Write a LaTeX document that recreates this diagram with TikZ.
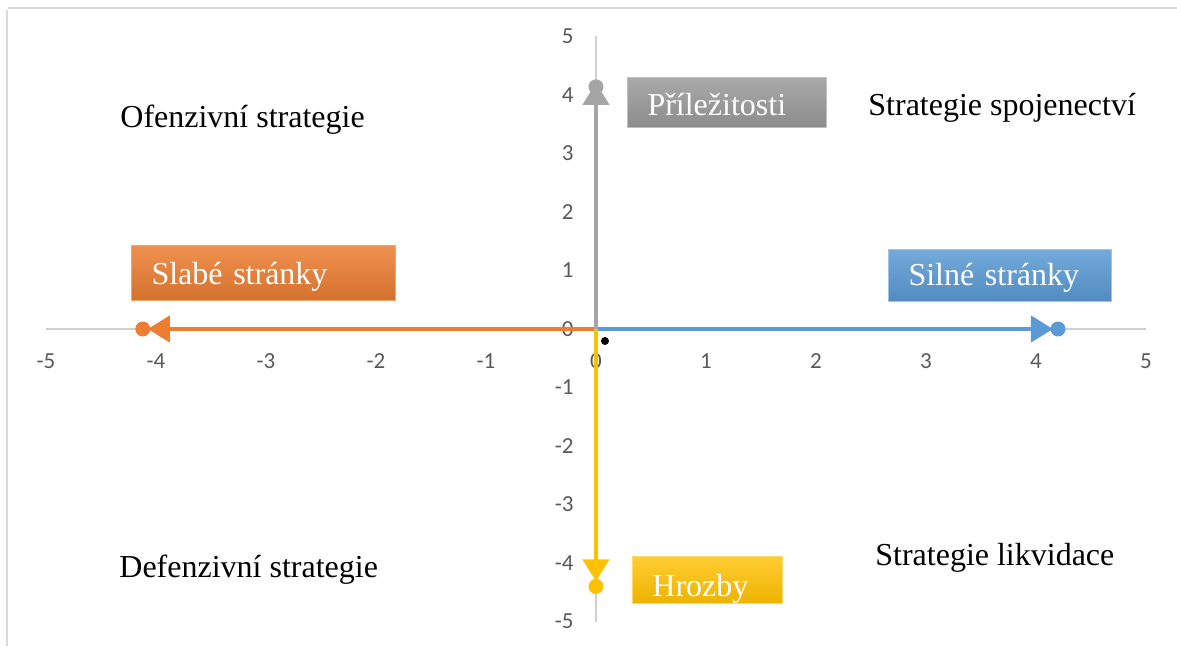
\documentclass[tikz,border=0pt]{standalone}
\usepackage{fontspec}
\setmainfont{Liberation Serif}
\newfontfamily\ticksfont{Carlito}
\usetikzlibrary{arrows.meta}
\definecolor{framegray}{HTML}{D9D9D9}
\definecolor{axisgray}{HTML}{D0D0D0}
\definecolor{tickgray}{HTML}{595959}
\definecolor{strongblue}{HTML}{5B9BD5}
\definecolor{weakorange}{HTML}{ED7D31}
\definecolor{oppgray}{HTML}{A5A5A5}
\definecolor{threatyellow}{HTML}{FFC000}

\begin{document}
\begin{tikzpicture}[x=55pt,y=29.25pt,
  tick/.style={font=\ticksfont\fontsize{11.5}{13}\selectfont,text=tickgray,inner sep=0pt},
  quad/.style={font=\fontsize{16}{19}\selectfont,inner sep=0pt,anchor=base west},
  tagbox/.style={anchor=west,inner xsep=10pt,inner ysep=0pt,align=left,text=white,
    font=\fontsize{16}{19}\selectfont,line width=0.5pt,text depth=0pt},
  vector/.style={line width=2pt,-{Triangle[width=13pt,length=11pt]},shorten >=2.5pt},
  enddot/.style={radius=3.75pt}]
\useasboundingbox (-5.418,-5.419) rectangle (5.282,5.624);
% frame of the chart area
\draw[framegray,line width=1pt] (-5.345,5.487) -- (5.282,5.487);
\draw[framegray,line width=1pt] (-5.355,5.45) -- (-5.355,-5.419);
% axes
\draw[axisgray,line width=1pt] (-5,0) -- (5,0);
\draw[axisgray,line width=1pt] (0,-5) -- (0,5);
\foreach \x in {-5,...,5}
  \node[tick] (xt\x) at (\x,-0.547) {\x};
\foreach \y in {-5,...,5}
  \node[tick,anchor=east] (yt\y) at (-0.2,\y) {\y};

\coordinate (o) at (0,0);
\coordinate (strong) at (4.2,0);
\coordinate (weak) at (-4.12,0);
\coordinate (opp) at (0,4.14);
\coordinate (threat) at (0,-4.4);

\draw[vector,strongblue] (o) -- (strong);
\fill[strongblue] (strong) circle[enddot];
\draw[vector,weakorange] (o) -- (weak);
\fill[weakorange] (weak) circle[enddot];
\draw[vector,oppgray,shorten >=-2pt] (o) -- (opp);
\fill[oppgray] (opp) circle[enddot];
\draw[vector,threatyellow] (o) -- (threat);
\fill[threatyellow] (threat) circle[enddot];

\fill (0.082,-0.205) circle (2pt);

% labels of the vectors
\node[tagbox,draw=oppgray!70!white,top color=oppgray!95!white,bottom color=oppgray!85!black,
  text width=79.5pt,minimum height=25pt,text height=13pt] (opplabel) at (0.282,3.880) {Příležitosti};
\node[tagbox,draw=weakorange!70!white,top color=weakorange!85!white,bottom color=weakorange!90!black,
  text width=112pt,minimum height=27.5pt,text height=11.5pt] (weaklabel) at (-4.227,0.949) {Slabé stránky};
\node[tagbox,draw=strongblue!60!white,top color=strongblue!85!white,bottom color=strongblue!90!black,
  text width=91.5pt,minimum height=26pt,text height=10pt] (stronglabel) at (2.655,0.923) {Silné stránky};
\node[tagbox,draw=threatyellow!60!white,top color=threatyellow!80!white,bottom color=threatyellow!93!black,
  text width=55pt,minimum height=23.5pt,text height=16.5pt] (threatlabel) at (0.327,-4.299) {Hrozby};

% quadrants
\node[quad] (offensive) at (-4.327,3.436) {Ofenzivní strategie};
\node[quad] (alliance) at (2.473,3.641) {Strategie spojenectví};
\node[quad] (defensive) at (-4.336,-4.256) {Defenzivní strategie};
\node[quad] (liquidation) at (2.536,-4.051) {Strategie likvidace};
\end{tikzpicture}
\end{document}
